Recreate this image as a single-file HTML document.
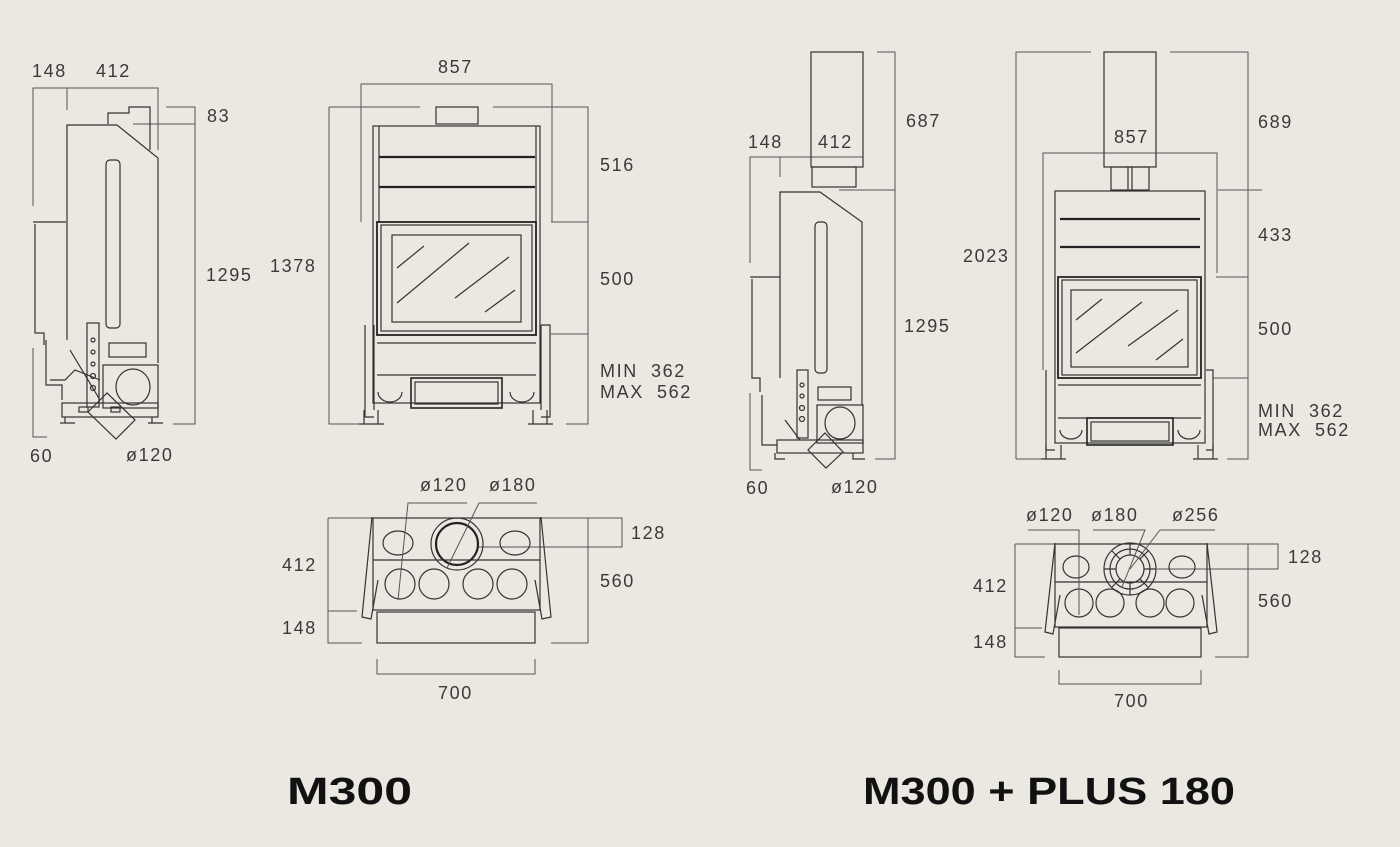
<!DOCTYPE html>
<html><head><meta charset="utf-8"><style>
html,body{margin:0;padding:0;background:#ebe8e2;}
svg{display:block}
text{font-family:"Liberation Sans",sans-serif;fill:#3a3a3a;font-size:18px;letter-spacing:1.6px}
.t{font-weight:bold;font-size:38px;fill:#111;letter-spacing:0}
.d{stroke:#555;stroke-width:1;fill:none}
.b{stroke:#333;stroke-width:1.2;fill:none}
.k{stroke:#222;stroke-width:2.2;fill:none}
</style></head><body>
<svg width="1400" height="847" viewBox="0 0 1400 847" xmlns="http://www.w3.org/2000/svg">
<rect width="1400" height="847" fill="#ebe8e2"/>

<g>
<path class="d" d="M33 206V88H158V150 M67 88V110 M166 107H195V424H173 M133 124H195 M33 348V437H47"/>
<path class="b" d="M67 340V125H117L158 158V363"/>
<path class="b" d="M108 124V113H129V107H150V150"/>
<rect class="b" x="106" y="160" width="14" height="168" rx="4"/>
<path class="b" d="M33 222H66 M35 224V333H44V345"/>
<rect class="b" x="87" y="323" width="12" height="84"/>
<circle cx="93" cy="340" r="2" class="b"/><circle cx="93" cy="352" r="2" class="b"/><circle cx="93" cy="364" r="2" class="b"/><circle cx="93" cy="376" r="2.5" class="b"/><circle cx="93" cy="388" r="2.5" class="b"/>
<rect class="b" x="109" y="343" width="37" height="14"/>
<rect class="b" x="103" y="365" width="55" height="43"/>
<ellipse class="b" cx="133" cy="387" rx="17" ry="18"/>
<rect class="b" x="62" y="403" width="96" height="14"/>
<rect class="b" x="79" y="407" width="9" height="5"/><rect class="b" x="111" y="407" width="9" height="5"/>
<path class="b" d="M65 417V423H73 M152 417V423H160 M60 423H75 M148 423H163"/>
<path class="b" d="M88 412L107 393L135 420L116 439Z"/>
<path class="b" d="M46 340V385H62V400 M50 380H65L75 370L100 380"/>
<path class="b" d="M70 350L100 400"/>
</g>

<g>
<path class="d" d="M361 222V84H552V222 M329 107H420 M493 107H588V424H566 M329 107V424H360 M551 222H588 M551 334H588"/>
<rect class="b" x="436" y="107" width="42" height="17"/>
<rect class="b" x="373" y="126" width="167" height="277"/>
<path class="b" d="M379 126V222 M536 126V222"/>
<path class="k" d="M379 157H535 M379 187H535"/>
<rect class="k" x="377" y="222" width="159" height="113" style="stroke-width:1.8"/>
<rect class="b" x="381" y="225" width="151" height="106"/>
<rect class="b" x="392" y="235" width="129" height="87"/>
<path class="b" d="M397 268L424 246 M397 303L469 243 M455 298L509 257 M485 312L515 290"/>
<path class="b" d="M377 343H536 M377 375H536"/>
<rect class="k" x="411" y="378" width="91" height="30" style="stroke-width:1.6"/>
<rect class="b" x="415" y="382" width="83" height="22"/>
<path class="b" d="M365 325V417H374 M541 325H550V417H541 M374 325V410 M541 325V410"/>
<path class="b" d="M364 410V424M378 410V424M533 410V424M547 410V424 M359 424H384M528 424H553"/>
<path class="b" d="M378 392A12 10 0 0 0 402 392 M510 392A12 10 0 0 0 534 392"/>
</g>

<g>
<path class="d" d="M877 52H895V459H875 M839 190H895 M750 263V157H863 M780 157V177 M750 393V470H762"/>
<rect class="b" x="811" y="52" width="52" height="115"/>
<rect class="b" x="812" y="167" width="44" height="20"/>
<path class="b" d="M780 378V192H820L862 222V405"/>
<rect class="b" x="815" y="222" width="12" height="151" rx="4"/>
<path class="b" d="M750 277H780 M752 279V378H760V392"/>
<rect class="b" x="797" y="370" width="11" height="68"/>
<circle cx="802" cy="385" r="2" class="b"/><circle cx="802" cy="396" r="2" class="b"/><circle cx="802" cy="408" r="2.5" class="b"/><circle cx="802" cy="419" r="2.5" class="b"/>
<rect class="b" x="818" y="387" width="33" height="13"/>
<rect class="b" x="817" y="405" width="46" height="38"/>
<ellipse class="b" cx="840" cy="423" rx="15" ry="16"/>
<rect class="b" x="777" y="440" width="86" height="13"/>
<path class="b" d="M775 453V459H785 M853 453V459H865"/>
<path class="b" d="M808 450L825 433L843 452L826 468Z"/>
<path class="b" d="M762 395V445H777 M785 420L800 440"/>
</g>

<g>
<path class="d" d="M1016 459V52H1091 M1170 52H1248V459H1227 M1016 459H1042 M1218 190H1262 M1216 277H1248 M1213 378H1248 M1043 370V153H1217V273"/>
<rect class="b" x="1104" y="52" width="52" height="115"/>
<rect class="b" x="1111" y="167" width="38" height="23"/>
<path class="b" d="M1128 167V190 M1132 167V190"/>
<rect class="b" x="1055" y="191" width="150" height="252"/>
<path class="k" d="M1060 219H1200 M1060 247H1200"/>
<rect class="k" x="1058" y="277" width="143" height="101" style="stroke-width:1.8"/>
<rect class="b" x="1062" y="280" width="135" height="95"/>
<rect class="b" x="1071" y="290" width="117" height="77"/>
<path class="b" d="M1076 320L1102 299 M1076 353L1142 302 M1128 346L1178 310 M1156 360L1183 339"/>
<path class="b" d="M1058 385H1201 M1058 418H1201"/>
<rect class="k" x="1087" y="418" width="86" height="27" style="stroke-width:1.6"/>
<rect class="b" x="1091" y="422" width="78" height="19"/>
<path class="b" d="M1046 370V450H1055 M1206 370H1213V450H1206"/>
<path class="b" d="M1046 445V459M1061 445V459M1198 445V459M1213 445V459 M1041 459H1066M1193 459H1218"/>
<path class="b" d="M1060 430A11 9 0 0 0 1082 430 M1178 430A11 9 0 0 0 1200 430"/>
</g>

<g>
<path class="d" d="M328 518H373 M328 518V643H362 M328 611H357 M540 518H622V547H478 M588 518V643H551 M377 659V674H535V659"/>
<rect class="b" x="373" y="518" width="167" height="92"/>
<path class="b" d="M373 560H540"/>
<path class="b" d="M372 517L362 617L371 619L378 580 M541 517L551 617L542 619L535 580"/>
<rect class="b" x="377" y="612" width="158" height="31"/>
<ellipse class="b" cx="398" cy="543" rx="15" ry="12"/>
<ellipse class="b" cx="515" cy="543" rx="15" ry="12"/>
<circle class="b" cx="457" cy="544" r="26"/>
<circle class="k" cx="457" cy="544" r="21"/>
<circle class="b" cx="400" cy="584" r="15"/><circle class="b" cx="434" cy="584" r="15"/><circle class="b" cx="478" cy="584" r="15"/><circle class="b" cx="512" cy="584" r="15"/>
<path class="d" d="M467 503H408L398 600 M537 503H479L447 568"/>
</g>

<g>
<path class="d" d="M1015 544H1055 M1015 544V657H1045 M1015 628H1042 M1207 544H1278V569H1157 M1248 544V657H1215 M1059 670V684H1201V670"/>
<rect class="b" x="1055" y="544" width="152" height="83"/>
<path class="b" d="M1055 582H1207"/>
<path class="b" d="M1055 543L1045 632L1053 634L1060 595 M1207 543L1217 632L1209 634L1202 595"/>
<rect class="b" x="1059" y="628" width="142" height="29"/>
<ellipse class="b" cx="1076" cy="567" rx="13" ry="11"/>
<ellipse class="b" cx="1182" cy="567" rx="13" ry="11"/>
<circle class="b" cx="1130" cy="569" r="26"/>
<circle class="b" cx="1130" cy="569" r="20"/>
<circle class="b" cx="1130" cy="569" r="14"/>
<path class="b" d="M1130 543V555 M1130 583V595 M1104 569H1116 M1144 569H1156 M1112 551L1120 559 M1148 551L1140 559 M1112 587L1120 579 M1148 587L1140 579"/>
<circle class="b" cx="1079" cy="603" r="14"/><circle class="b" cx="1110" cy="603" r="14"/><circle class="b" cx="1150" cy="603" r="14"/><circle class="b" cx="1180" cy="603" r="14"/>
<path class="d" d="M1028 530H1079V615 M1093 530H1145L1122 587 M1160 530H1215 M1160 530L1130 569"/>
</g>

<text x="32" y="77">148</text><text x="96" y="77">412</text>
<text x="438" y="73">857</text><text x="207" y="122">83</text>
<text x="600" y="171">516</text><text x="206" y="281">1295</text>
<text x="270" y="272">1378</text><text x="600" y="285">500</text>
<text x="600" y="377" xml:space="preserve">MIN  362</text><text x="600" y="398" xml:space="preserve">MAX  562</text>
<text x="30" y="462">60</text><text x="126" y="461">ø120</text>

<text x="906" y="127">687</text><text x="748" y="148">148</text><text x="818" y="148">412</text>
<text x="1114" y="143">857</text><text x="1258" y="128">689</text><text x="1258" y="241">433</text>
<text x="963" y="262">2023</text><text x="904" y="332">1295</text><text x="1258" y="335">500</text>
<text x="1258" y="417" xml:space="preserve">MIN  362</text><text x="1258" y="436" xml:space="preserve">MAX  562</text>
<text x="746" y="494">60</text><text x="831" y="493">ø120</text>

<text x="420" y="491">ø120</text><text x="489" y="491">ø180</text><text x="631" y="539">128</text>
<text x="282" y="571">412</text><text x="600" y="587">560</text><text x="282" y="634">148</text>
<text x="438" y="699">700</text>

<text x="1026" y="521">ø120</text><text x="1091" y="521">ø180</text><text x="1172" y="521">ø256</text>
<text x="1288" y="563">128</text><text x="973" y="592">412</text><text x="1258" y="607">560</text>
<text x="973" y="648">148</text><text x="1114" y="707">700</text>

<text class="t" x="287" y="804" textLength="125" lengthAdjust="spacingAndGlyphs">M300</text>
<text class="t" x="863" y="804" textLength="372" lengthAdjust="spacingAndGlyphs">M300 + PLUS 180</text>
</svg>
</body></html>
